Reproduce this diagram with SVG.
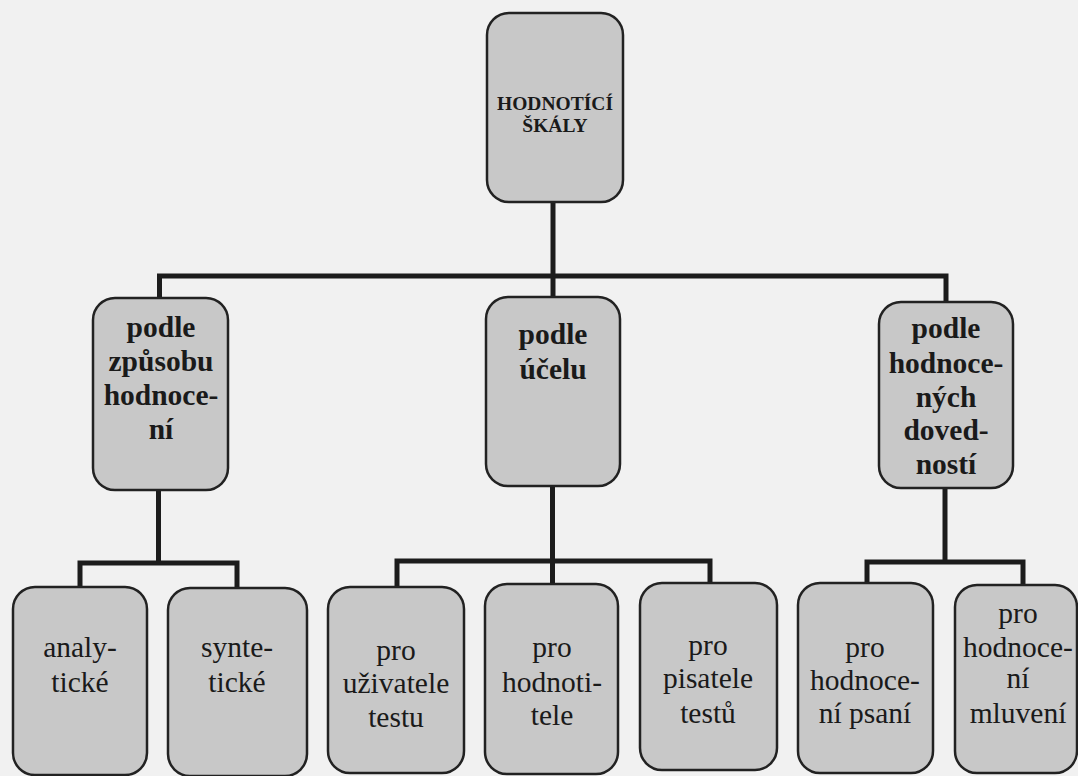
<svg xmlns="http://www.w3.org/2000/svg" width="1078" height="776" viewBox="0 0 1078 776">
  <style>
    .box { fill: #c8c8c8; stroke: #222; stroke-width: 2.5; }
    .conn { fill: none; stroke: #1c1c1c; stroke-width: 5; stroke-linejoin: miter; stroke-linecap: butt; }
    .t { font-family: "Liberation Serif", "Times New Roman", serif; fill: #1a1a1a; text-anchor: middle; }
    .top { font-size: 19.5px; font-weight: bold; }
    .mid { font-size: 29.5px; font-weight: bold; }
    .leaf { font-size: 29.5px; }
  </style>
  <rect x="0" y="0" width="1078" height="776" fill="#f1f1f1"/>

  <g id="connectors">
    <path class="conn" d="M553 202 V276"/>
    <path class="conn" d="M159.5 299 V276 H946 V302"/>
    <path class="conn" d="M553 276 V297"/>
    <path class="conn" d="M158.5 490 V563"/>
    <path class="conn" d="M80 587 V563 H237 V588"/>
    <path class="conn" d="M552.5 485 V561"/>
    <path class="conn" d="M397 587 V561 H710 V583"/>
    <path class="conn" d="M552.5 561 V584"/>
    <path class="conn" d="M945 488 V562"/>
    <path class="conn" d="M867 583 V562 H1023 V585"/>
  </g>

  <g id="root">
    <rect class="box" x="487" y="13" width="136" height="189" rx="22"/>
    <text class="t top" x="555" y="110">HODNOTÍCÍ</text>
    <text class="t top" x="555" y="132">ŠKÁLY</text>
  </g>

  <g id="mid-zpusob">
    <rect class="box" x="93" y="298" width="135" height="192" rx="22"/>
    <text class="t mid" x="161" y="337">podle</text>
    <text class="t mid" x="161" y="371">způsobu</text>
    <text class="t mid" x="161" y="405">hodnoce-</text>
    <text class="t mid" x="161" y="439">ní</text>
  </g>

  <g id="mid-ucel">
    <rect class="box" x="486" y="297" width="134" height="189" rx="22"/>
    <text class="t mid" x="553" y="344">podle</text>
    <text class="t mid" x="553" y="379">účelu</text>
  </g>

  <g id="mid-dovednosti">
    <rect class="box" x="879" y="302" width="134" height="186" rx="22"/>
    <text class="t mid" x="946" y="338">podle</text>
    <text class="t mid" x="946" y="373">hodnoce-</text>
    <text class="t mid" x="946" y="407">ných</text>
    <text class="t mid" x="946" y="440">doved-</text>
    <text class="t mid" x="946" y="474">ností</text>
  </g>

  <g id="leaf-analyticke">
    <rect class="box" x="13" y="587" width="134" height="188" rx="22"/>
    <text class="t leaf" x="80" y="657">analy-</text>
    <text class="t leaf" x="80" y="692">tické</text>
  </g>

  <g id="leaf-synteticke">
    <rect class="box" x="168" y="588" width="139" height="188" rx="22"/>
    <text class="t leaf" x="237" y="657">synte-</text>
    <text class="t leaf" x="237" y="692">tické</text>
  </g>

  <g id="leaf-uzivatele">
    <rect class="box" x="328" y="587" width="136" height="186" rx="22"/>
    <text class="t leaf" x="396" y="660">pro</text>
    <text class="t leaf" x="396" y="693">uživatele</text>
    <text class="t leaf" x="396" y="727">testu</text>
  </g>

  <g id="leaf-hodnotitele">
    <rect class="box" x="485" y="584" width="133" height="190" rx="22"/>
    <text class="t leaf" x="552" y="657">pro</text>
    <text class="t leaf" x="552" y="692">hodnoti-</text>
    <text class="t leaf" x="552" y="725">tele</text>
  </g>

  <g id="leaf-pisatele">
    <rect class="box" x="640" y="583" width="137" height="187" rx="22"/>
    <text class="t leaf" x="708" y="655">pro</text>
    <text class="t leaf" x="708" y="688">pisatele</text>
    <text class="t leaf" x="708" y="723">testů</text>
  </g>

  <g id="leaf-psani">
    <rect class="box" x="798" y="583" width="135" height="190" rx="22"/>
    <text class="t leaf" x="865" y="657">pro</text>
    <text class="t leaf" x="865" y="690">hodnoce-</text>
    <text class="t leaf" x="865" y="723">ní psaní</text>
  </g>

  <g id="leaf-mluveni">
    <rect class="box" x="955" y="585" width="122" height="188" rx="22"/>
    <text class="t leaf" x="1018" y="623">pro</text>
    <text class="t leaf" x="1018" y="657">hodnoce-</text>
    <text class="t leaf" x="1018" y="688">ní</text>
    <text class="t leaf" x="1018" y="723">mluvení</text>
  </g>
</svg>
